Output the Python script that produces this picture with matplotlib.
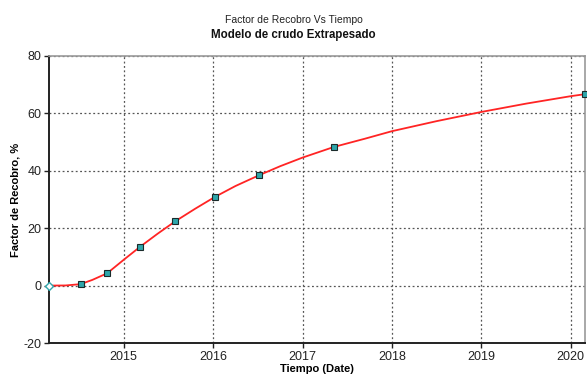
import matplotlib
matplotlib.use("Agg")
import matplotlib.pyplot as plt

# recovery factor curve (decimal years, %)
curve_t = [2014.164, 2014.35, 2014.517, 2014.65, 2014.815, 2015.0, 2015.186,
           2015.38, 2015.576, 2015.8, 2016.02, 2016.25, 2016.51, 2016.75,
           2017.0, 2017.35, 2017.7, 2018.0, 2018.5, 2019.0, 2019.5, 2020.0,
           2020.16]
curve_fr = [0.0, 0.05, 0.5, 2.0, 4.3, 9.0, 13.6,
            18.1, 22.4, 26.8, 30.9, 34.7, 38.4, 41.6,
            44.6, 48.3, 51.2, 53.8, 57.3, 60.5, 63.4, 66.0,
            66.7]

# reported points along the curve
pts_t = [2014.517, 2014.815, 2015.186, 2015.576, 2016.02, 2016.51, 2017.35, 2020.16]
pts_fr = [0.5, 4.3, 13.6, 22.4, 30.9, 38.4, 48.3, 66.7]

years = [2015, 2016, 2017, 2018, 2019, 2020]
yticks = [-20, 0, 20, 40, 60, 80]

plt.rcParams["font.family"] = ["Liberation Sans", "DejaVu Sans"]
plt.rcParams["axes.unicode_minus"] = False

fig = plt.figure(figsize=(5.87, 3.78), dpi=100)
ax = fig.add_axes([49 / 587, 35 / 378, 536 / 587, 287 / 378])

ax.plot(curve_t, curve_fr, "-", color="#ff2424", lw=1.3, zorder=3)
ax.plot(pts_t, pts_fr, "s", ms=4, mfc="#2fa6ab", mec="#1a2a2a", mew=0.8,
        zorder=4, clip_on=False)
ax.plot([curve_t[0]], [curve_fr[0]], "D", ms=4, mfc="white", mec="#2fa6ab",
        mew=1, zorder=5, clip_on=False)

ax.set_xlim(2014.164, 2020.16)
ax.set_ylim(-20, 80)
ax.set_xticks(years)
ax.set_xticklabels([str(y) for y in years])
ax.set_yticks(yticks)

ax.grid(True, color="#555555", linestyle=(0, (1.5, 2)), linewidth=0.9)
ax.set_axisbelow(True)

for side in ("left", "bottom"):
    ax.spines[side].set_color("#222222")
    ax.spines[side].set_linewidth(1.4)
for side in ("top", "right"):
    ax.spines[side].set_color("#999999")
    ax.spines[side].set_linewidth(1.2)

ax.tick_params(axis="both", labelsize=9, length=3.5, width=1, colors="#222222",
               pad=2)

ax.set_xlabel("Tiempo (Date)", fontsize=8, fontweight="bold", labelpad=1)
ax.set_ylabel("Factor de Recobro, %", fontsize=8, fontweight="bold", labelpad=2)

fig.text(0.5, 1 - 20 / 378, "Factor de Recobro Vs Tiempo", ha="center",
         va="center", fontsize=7.5, color="#222222")
fig.text(0.5, 1 - 35 / 378, "Modelo de crudo Extrapesado", ha="center",
         va="center", fontsize=8.3, fontweight="bold", color="#111111")

fig.savefig("out.png", dpi=100)
